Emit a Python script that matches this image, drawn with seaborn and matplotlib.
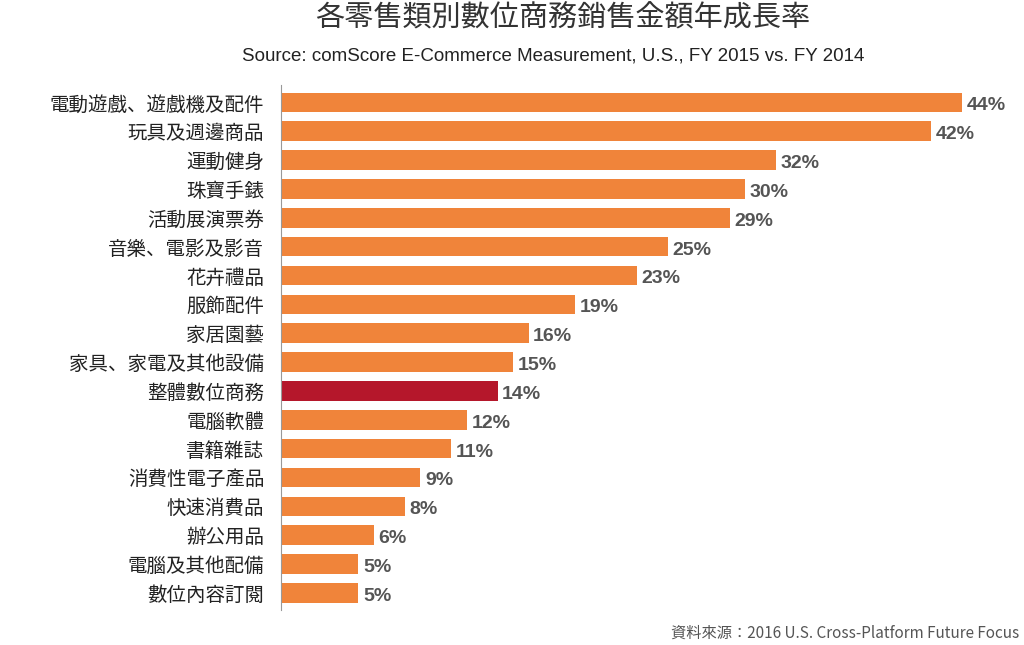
import matplotlib
matplotlib.use("Agg")
import matplotlib.pyplot as plt
from matplotlib import font_manager as fm
import seaborn as sns
import pandas as pd

categories = ["電動遊戲、遊戲機及配件","玩具及週邊商品","運動健身","珠寶手錶","活動展演票券",
              "音樂、電影及影音","花卉禮品","服飾配件","家居園藝","家具、家電及其他設備",
              "整體數位商務","電腦軟體","書籍雜誌","消費性電子產品","快速消費品","辦公用品",
              "電腦及其他配備","數位內容訂閱"]
values = [44,42,32,30,29,25,23,19,16,15,14,12,11,9,8,6,5,5]
highlight = "整體數位商務"

cjk = None
names = sorted({f.name for f in fm.fontManager.ttflist})
for pref in ["Noto Sans CJK TC", "Noto Sans CJK SC", "Noto Sans CJK JP", "Noto Sans CJK KR"]:
    if pref in names:
        cjk = pref
        break
if cjk is None:
    for n in names:
        if "CJK" in n:
            cjk = n
            break
if cjk is None:
    for f in fm.findSystemFonts():
        if "CJK" in f or "cjk" in f.lower():
            fm.fontManager.addfont(f)
            cjk = fm.FontProperties(fname=f).get_name()
            break
plt.rcParams["font.family"] = [cjk or "DejaVu Sans", "DejaVu Sans"]

df = pd.DataFrame({"cat": categories, "val": values})
palette = {c: ("#B5172B" if c == highlight else "#F0843A") for c in categories}

fig = plt.figure(figsize=(10.24, 6.45), dpi=100)
ax = fig.add_axes([0.2744, 0.054, 0.7, 0.814])
sns.barplot(data=df, x="val", y="cat", hue="cat", palette=palette, legend=False,
            width=0.68, ax=ax, saturation=1)
ax.set_xlim(0, 44 / 681 * 717)
ax.set_ylim(17.6, -0.6)
for i, v in enumerate(values):
    ax.text(v + 0.3, i + 0.12, f"{v}%", va="center", ha="left", fontsize=14,
            fontweight="bold", color="#555555", fontfamily="Liberation Sans")
for s in ["top", "right", "bottom"]:
    ax.spines[s].set_visible(False)
ax.spines["left"].set_color("#999999")
ax.set_xticks([])
ax.set_xlabel("")
ax.set_ylabel("")
ax.tick_params(axis="y", length=0, labelsize=14, pad=12, labelcolor="#222222")
fig.text(0.55, 0.972, "各零售類別數位商務銷售金額年成長率", ha="center", va="center",
         fontsize=21, color="#333333")
fig.text(0.54, 0.913, "Source: comScore E-Commerce Measurement, U.S., FY 2015 vs. FY 2014",
         ha="center", va="center", fontsize=13.5, color="#222222", fontfamily="Liberation Sans")
fig.text(0.995, 0.018, "資料來源：2016 U.S. Cross-Platform Future Focus", ha="right",
         va="center", fontsize=11, color="#555555")
fig.savefig("out.png", dpi=100)
